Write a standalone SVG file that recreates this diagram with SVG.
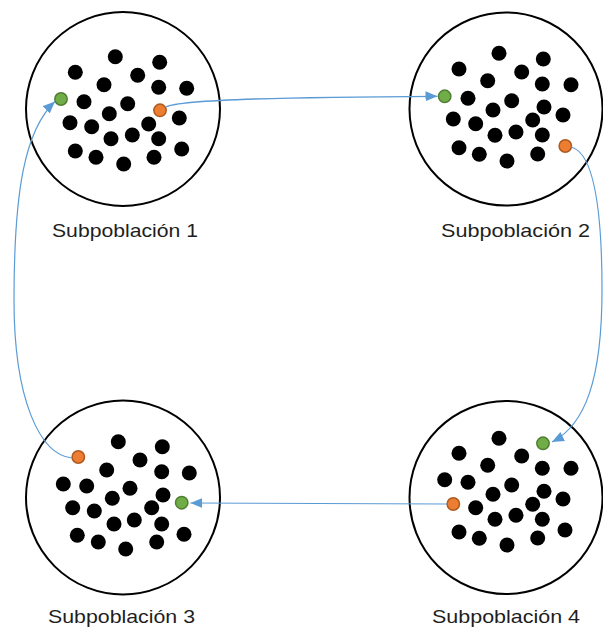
<svg xmlns="http://www.w3.org/2000/svg" width="603" height="629" viewBox="0 0 603 629">
<defs>
<style>
.ring{fill:#fff;stroke:#000;stroke-width:2}
.d{fill:#000}
.g{fill:#70AD47;stroke:#507E32;stroke-width:1.5}
.o{fill:#ED7D31;stroke:#AE5A21;stroke-width:1.5}
.lbl{font-family:"Liberation Sans",Arial,sans-serif;font-size:18.5px;fill:#1e1e1e}
.c{fill:none;stroke:#5B9BD5;stroke-width:1.2}
</style>
<marker id="ah" markerUnits="userSpaceOnUse" markerWidth="13" markerHeight="11" refX="12" refY="5" orient="auto">
<path d="M0,0 L12,5 L0,10 z" fill="#5B9BD5"/>
</marker>
</defs>
<rect width="603" height="629" fill="#fff"/>

<g id="node1">
<circle class="ring" cx="123" cy="109" r="97"/>
<g class="d">
<circle cx="115.3" cy="56.7" r="7.5"/><circle cx="159.7" cy="62.3" r="7.5"/><circle cx="75.3" cy="72.3" r="7.5"/><circle cx="137.7" cy="75.3" r="7.5"/><circle cx="104" cy="84.7" r="7.5"/><circle cx="158.7" cy="87.3" r="7.5"/><circle cx="186.7" cy="88.3" r="7.5"/><circle cx="84" cy="101.7" r="7.5"/><circle cx="127.7" cy="103.7" r="7.5"/><circle cx="109.3" cy="113.7" r="7.5"/><circle cx="179.3" cy="118" r="7.5"/><circle cx="70" cy="122.7" r="7.5"/><circle cx="91.7" cy="126.7" r="7.5"/><circle cx="148.7" cy="124" r="7.5"/><circle cx="132.3" cy="135" r="7.5"/><circle cx="111" cy="138.7" r="7.5"/><circle cx="158.7" cy="138.7" r="7.5"/><circle cx="75.3" cy="151" r="7.5"/><circle cx="181.7" cy="149" r="7.5"/><circle cx="96" cy="157.3" r="7.5"/><circle cx="154" cy="157.3" r="7.5"/><circle cx="123.7" cy="164" r="7.5"/>
</g>
<circle class="g" cx="61" cy="99" r="6.2"/>
<circle class="o" cx="160" cy="110.3" r="6.2"/>
<text class="lbl" x="52" y="237" textLength="146" lengthAdjust="spacingAndGlyphs">Subpoblación 1</text>
</g>

<g id="node2">
<circle class="ring" cx="506" cy="109" r="96.5"/>
<g class="d">
<circle cx="499" cy="53.3" r="7.5"/><circle cx="543.3" cy="59" r="7.5"/><circle cx="459" cy="69" r="7.5"/><circle cx="521.7" cy="72" r="7.5"/><circle cx="487.7" cy="80.7" r="7.5"/><circle cx="542.3" cy="84" r="7.5"/><circle cx="571" cy="84.7" r="7.5"/><circle cx="468" cy="98.3" r="7.5"/><circle cx="511.7" cy="100.7" r="7.5"/><circle cx="493" cy="110" r="7.5"/><circle cx="544" cy="107" r="7.5"/><circle cx="563" cy="115" r="7.5"/><circle cx="453.3" cy="119" r="7.5"/><circle cx="475.7" cy="123.7" r="7.5"/><circle cx="532.7" cy="120" r="7.5"/><circle cx="516" cy="132" r="7.5"/><circle cx="495" cy="135.3" r="7.5"/><circle cx="542.3" cy="135" r="7.5"/><circle cx="459" cy="147.7" r="7.5"/><circle cx="479.3" cy="154.3" r="7.5"/><circle cx="537.7" cy="154" r="7.5"/><circle cx="507" cy="161" r="7.5"/>
</g>
<circle class="g" cx="444.7" cy="96.3" r="6.2"/>
<circle class="o" cx="565.3" cy="146" r="6.2"/>
<text class="lbl" x="441" y="237" textLength="149" lengthAdjust="spacingAndGlyphs">Subpoblación 2</text>
</g>

<g id="node3">
<circle class="ring" cx="123" cy="497.5" r="97"/>
<g class="d">
<circle cx="118.3" cy="441.7" r="7.5"/><circle cx="162.3" cy="446.7" r="7.5"/><circle cx="140" cy="460" r="7.5"/><circle cx="106.7" cy="470" r="7.5"/><circle cx="161.7" cy="471.7" r="7.5"/><circle cx="189.3" cy="473" r="7.5"/><circle cx="63.3" cy="484" r="7.5"/><circle cx="86.7" cy="486" r="7.5"/><circle cx="130" cy="488.3" r="7.5"/><circle cx="163" cy="495" r="7.5"/><circle cx="112.3" cy="498.3" r="7.5"/><circle cx="72.7" cy="507.7" r="7.5"/><circle cx="94.3" cy="511" r="7.5"/><circle cx="151.7" cy="507.7" r="7.5"/><circle cx="134.3" cy="520" r="7.5"/><circle cx="114" cy="524" r="7.5"/><circle cx="161.7" cy="524" r="7.5"/><circle cx="77.3" cy="535.3" r="7.5"/><circle cx="184" cy="534.3" r="7.5"/><circle cx="98.3" cy="542" r="7.5"/><circle cx="156.7" cy="542" r="7.5"/><circle cx="125.7" cy="549" r="7.5"/>
</g>
<circle class="g" cx="181.7" cy="502.7" r="6.2"/>
<circle class="o" cx="78.3" cy="457" r="6.2"/>
<text class="lbl" x="48" y="623" textLength="147" lengthAdjust="spacingAndGlyphs">Subpoblación 3</text>
</g>

<g id="node4">
<circle class="ring" cx="506" cy="497.5" r="96.5"/>
<g class="d">
<circle cx="499" cy="438.3" r="7.5"/><circle cx="459" cy="453.3" r="7.5"/><circle cx="521.7" cy="456" r="7.5"/><circle cx="487.7" cy="465.3" r="7.5"/><circle cx="542.3" cy="468.3" r="7.5"/><circle cx="571" cy="468.3" r="7.5"/><circle cx="444.7" cy="479.7" r="7.5"/><circle cx="468" cy="482.3" r="7.5"/><circle cx="511.7" cy="485" r="7.5"/><circle cx="544" cy="491.3" r="7.5"/><circle cx="493" cy="494.3" r="7.5"/><circle cx="563" cy="499" r="7.5"/><circle cx="475.7" cy="507.7" r="7.5"/><circle cx="532.7" cy="504.3" r="7.5"/><circle cx="516" cy="515.3" r="7.5"/><circle cx="495" cy="519.3" r="7.5"/><circle cx="542.3" cy="519.3" r="7.5"/><circle cx="459" cy="532" r="7.5"/><circle cx="565" cy="530" r="7.5"/><circle cx="479.3" cy="538.3" r="7.5"/><circle cx="537.7" cy="538" r="7.5"/><circle cx="507" cy="545" r="7.5"/>
</g>
<circle class="g" cx="543" cy="443.3" r="6.2"/>
<circle class="o" cx="453.3" cy="504" r="6.2"/>
<text class="lbl" x="432" y="623" textLength="148" lengthAdjust="spacingAndGlyphs">Subpoblación 4</text>
</g>

<g id="connectors">
<path class="c" marker-end="url(#ah)" d="M166,107 C180,99 300,97 437.5,96.3"/>
<path class="c" marker-end="url(#ah)" d="M571,147 C592,152 602,200 602,290 C602,380 585,425 552,442"/>
<path class="c" marker-end="url(#ah)" d="M447,504 L190.5,503"/>
<path class="c" marker-end="url(#ah)" d="M72,458 C40,455 14,400 14,300 C14,190 25,130 55,101.5"/>
</g>
</svg>
